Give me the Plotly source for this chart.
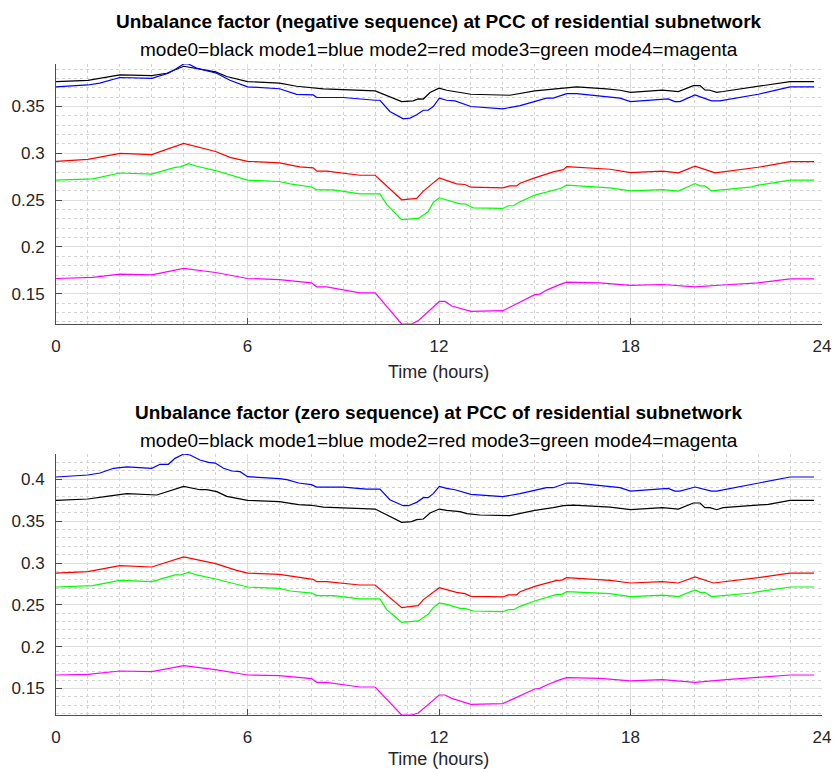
import plotly.graph_objects as go

# ---------------- data: negative sequence (top panel) ----------------
neg_black_t = [0, 1, 2, 3, 3.47, 4, 5, 5.35, 6, 7, 7.54, 8, 8.38, 10, 10.83, 11.19, 11.35, 11.51, 11.72, 12, 12.24, 13, 14, 14.22, 15, 15.58, 15.95, 16.31, 17.25, 17.67, 18, 19, 19.5, 19.97, 20.18, 20.33, 20.49, 20.7, 20.9, 22, 23, 23.75]
neg_black_v = [0.3766, 0.378, 0.3837, 0.383, 0.3855, 0.393, 0.387, 0.382, 0.3766, 0.375, 0.3716, 0.3702, 0.3688, 0.3667, 0.3553, 0.356, 0.3582, 0.358, 0.365, 0.3695, 0.3674, 0.3631, 0.3617, 0.362, 0.3667, 0.3688, 0.370, 0.3709, 0.3688, 0.3674, 0.3652, 0.3674, 0.366, 0.3723, 0.3723, 0.3677, 0.3674, 0.3652, 0.366, 0.3716, 0.3766, 0.3766]

neg_blue_t = [0, 1, 1.37, 2, 3, 3.52, 3.75, 4.0, 4.15, 4.4, 5, 5.45, 6, 7, 7.54, 8.06, 8.17, 9, 10, 10.15, 10.46, 10.88, 11.09, 11.3, 11.51, 11.66, 11.82, 12.01, 12.24, 12.5, 13, 14, 14.54, 15, 15.37, 15.58, 16.0, 16.31, 16.83, 17.67, 18, 18.3, 19, 19.18, 19.39, 19.55, 20.02, 20.54, 20.8, 22, 23, 23.75]
neg_blue_v = [0.3709, 0.373, 0.375, 0.381, 0.380, 0.3855, 0.390, 0.3954, 0.3954, 0.391, 0.386, 0.378, 0.371, 0.369, 0.363, 0.3624, 0.3596, 0.3596, 0.3567, 0.3567, 0.3447, 0.3369, 0.3376, 0.3411, 0.346, 0.346, 0.35, 0.3589, 0.3567, 0.356, 0.35, 0.3475, 0.351, 0.3553, 0.3589, 0.3589, 0.3638, 0.3638, 0.3617, 0.3589, 0.3553, 0.356, 0.3582, 0.3582, 0.3553, 0.3553, 0.3624, 0.356, 0.356, 0.3631, 0.3709, 0.3709]

neg_red_t = [0, 1, 2, 3, 4, 5, 5.45, 6, 7, 7.64, 8.06, 8.17, 8.48, 9.52, 10, 10.83, 11.3, 11.51, 12.01, 12.55, 12.81, 13, 14, 14.22, 14.43, 14.54, 15, 15.58, 15.9, 16.0, 17.36, 18, 19, 19.5, 20.02, 20.65, 22, 23, 23.75]
neg_red_v = [0.2915, 0.2936, 0.300, 0.2986, 0.3106, 0.302, 0.2957, 0.2915, 0.2897, 0.2856, 0.2844, 0.2809, 0.2809, 0.2766, 0.2766, 0.2504, 0.2518, 0.2596, 0.2738, 0.2674, 0.2667, 0.2638, 0.2631, 0.2652, 0.2652, 0.2681, 0.2738, 0.2801, 0.2825, 0.2858, 0.283, 0.2794, 0.2809, 0.2791, 0.2862, 0.2791, 0.2851, 0.2911, 0.2911]

neg_green_t = [0, 1.15, 2, 3, 3.73, 3.89, 4.15, 4.41, 5, 5.25, 6, 7, 7.34, 8.0, 8.17, 8.69, 9.52, 10.15, 10.36, 10.83, 11.35, 11.66, 11.82, 12.01, 12.24, 12.66, 12.81, 13.07, 14, 14.17, 14.33, 14.54, 15, 15.69, 15.8, 16.0, 17.36, 18, 19, 19.5, 20.02, 20.18, 20.33, 20.54, 21.8, 22, 23, 23.75]
neg_green_v = [0.2713, 0.2727, 0.279, 0.2777, 0.285, 0.2855, 0.289, 0.2862, 0.2816, 0.279, 0.2713, 0.2699, 0.2674, 0.264, 0.261, 0.261, 0.2567, 0.2567, 0.2454, 0.2291, 0.2305, 0.2376, 0.2475, 0.2525, 0.2504, 0.2461, 0.2461, 0.2418, 0.2411, 0.244, 0.244, 0.2482, 0.2553, 0.2617, 0.2624, 0.266, 0.2631, 0.2599, 0.2613, 0.2596, 0.2677, 0.2652, 0.2652, 0.2599, 0.2642, 0.266, 0.2713, 0.2713]

neg_mag_t = [0, 1.15, 2, 3, 4, 5, 6, 7, 8, 8.17, 8.48, 9.52, 10, 10.83, 11.14, 11.35, 12.01, 12.19, 12.4, 13, 14, 15, 15.16, 15.37, 15.8, 16.0, 17.04, 18, 19, 20.02, 21, 22, 23, 23.75]
neg_mag_v = [0.1663, 0.1674, 0.1709, 0.1702, 0.177, 0.1727, 0.1663, 0.1652, 0.1617, 0.1574, 0.1574, 0.151, 0.151, 0.1177, 0.1177, 0.1213, 0.1418, 0.1418, 0.1369, 0.1312, 0.1319, 0.149, 0.1496, 0.1539, 0.16, 0.1624, 0.1617, 0.1589, 0.1599, 0.1574, 0.1596, 0.1617, 0.166, 0.166]

# ---------------- data: zero sequence (bottom panel) ----------------
zero_black_t = [0, 1, 1.59, 2.22, 3.16, 3.57, 4, 4.51, 4.72, 5.04, 5.35, 6, 7, 7.6, 8.0, 8.38, 10, 10.83, 11.14, 11.3, 11.51, 11.72, 12.01, 12.24, 12.66, 12.87, 13.28, 14.22, 14.54, 15, 15.58, 15.9, 16.21, 17.36, 18, 19, 19.5, 19.97, 20.18, 20.33, 20.49, 20.7, 20.9, 22.32, 23, 23.75]
zero_black_v = [0.3749, 0.3765, 0.3797, 0.3829, 0.3813, 0.3861, 0.3916, 0.3876, 0.3876, 0.3853, 0.3797, 0.3749, 0.3733, 0.3697, 0.369, 0.3669, 0.3645, 0.3486, 0.3494, 0.3518, 0.3526, 0.3598, 0.3645, 0.3629, 0.3614, 0.359, 0.3574, 0.3566, 0.359, 0.3629, 0.3661, 0.3685, 0.3693, 0.3669, 0.3637, 0.3661, 0.3645, 0.3717, 0.3717, 0.3661, 0.3661, 0.3637, 0.3661, 0.3701, 0.3749, 0.3749]

zero_blue_t = [0, 1, 1.38, 1.8, 2.22, 3, 3.26, 3.52, 3.73, 4, 4.2, 4.51, 4.78, 4.99, 5.25, 5.51, 5.77, 6, 7, 7.23, 7.6, 8.0, 8.17, 9, 9.73, 10.15, 10.46, 10.88, 11.04, 11.3, 11.51, 11.66, 11.82, 12.01, 12.24, 12.5, 13, 14, 14.54, 15, 15.37, 15.58, 16.0, 16.31, 17.04, 17.67, 18, 18.3, 19, 19.18, 19.39, 19.55, 20.02, 20.54, 20.7, 22, 23, 23.75]
zero_blue_v = [0.4028, 0.4052, 0.4076, 0.4132, 0.4148, 0.4132, 0.418, 0.418, 0.4251, 0.4303, 0.4291, 0.4231, 0.4203, 0.4195, 0.4132, 0.41, 0.4092, 0.4032, 0.4008, 0.3996, 0.3956, 0.3936, 0.3908, 0.3908, 0.3884, 0.3884, 0.3757, 0.3685, 0.3685, 0.3725, 0.3781, 0.3781, 0.3829, 0.3916, 0.3892, 0.3876, 0.3821, 0.3793, 0.3829, 0.3869, 0.39, 0.39, 0.3956, 0.3956, 0.3924, 0.39, 0.386, 0.3868, 0.3892, 0.3892, 0.386, 0.386, 0.3908, 0.386, 0.386, 0.3956, 0.4028, 0.4028]

zero_red_t = [0, 1, 2, 3, 4, 5, 5.66, 6, 7, 7.64, 8.05, 8.17, 8.48, 9.52, 10, 10.83, 11.35, 11.51, 12.01, 12.55, 12.81, 13, 14, 14.17, 14.43, 14.54, 15, 15.69, 15.85, 16.0, 17.36, 18, 19, 19.5, 20.02, 20.6, 22, 23, 23.75]
zero_red_v = [0.288, 0.2896, 0.2968, 0.2952, 0.3072, 0.2992, 0.2912, 0.288, 0.2865, 0.2825, 0.2805, 0.2777, 0.2777, 0.2737, 0.2737, 0.2466, 0.249, 0.2562, 0.2705, 0.2649, 0.2633, 0.2602, 0.2594, 0.2618, 0.2618, 0.2657, 0.2721, 0.2793, 0.2795, 0.2825, 0.2793, 0.2761, 0.2777, 0.2761, 0.2833, 0.2761, 0.2825, 0.288, 0.288]

zero_green_t = [0, 1.15, 2, 3, 3.73, 3.89, 4.15, 4.41, 5, 5.25, 6, 7, 7.34, 8.01, 8.17, 8.69, 9.52, 10.15, 10.36, 10.83, 11.35, 11.66, 11.82, 12.01, 12.24, 12.66, 12.81, 13.07, 14, 14.17, 14.33, 14.54, 15, 15.69, 15.85, 16.0, 17.36, 18, 19, 19.5, 20.02, 20.18, 20.33, 20.54, 21.8, 22, 23, 23.75]
zero_green_v = [0.2713, 0.2729, 0.2793, 0.2777, 0.2857, 0.2857, 0.2888, 0.2857, 0.2809, 0.2785, 0.2713, 0.2697, 0.2665, 0.2641, 0.261, 0.261, 0.257, 0.257, 0.2442, 0.2291, 0.2307, 0.2386, 0.2466, 0.2522, 0.2506, 0.2458, 0.2458, 0.2426, 0.2418, 0.2442, 0.2442, 0.2482, 0.2546, 0.2625, 0.2625, 0.2657, 0.2633, 0.2598, 0.2617, 0.2598, 0.2677, 0.2649, 0.2649, 0.2598, 0.2641, 0.2657, 0.2713, 0.2713]

zero_mag_t = [0, 1, 2, 3, 4, 5, 6, 7, 8.01, 8.17, 8.48, 9.52, 10, 10.83, 11.14, 11.35, 12.01, 12.19, 12.4, 13, 14, 15, 15.16, 15.37, 15.8, 16.0, 17.04, 18, 19, 20.02, 21, 22, 23, 23.75]
zero_mag_v = [0.1661, 0.1669, 0.1709, 0.1701, 0.1773, 0.1725, 0.1661, 0.1653, 0.1618, 0.1574, 0.1574, 0.1518, 0.1518, 0.1183, 0.1183, 0.1207, 0.1422, 0.1422, 0.1382, 0.1311, 0.1319, 0.1494, 0.1502, 0.1542, 0.1606, 0.163, 0.1622, 0.159, 0.1606, 0.1574, 0.1606, 0.163, 0.1661, 0.1661]

x_ticks = [0, 6, 12, 18, 24]
titles = ["Unbalance factor (negative sequence) at PCC of residential subnetwork",
          "Unbalance factor (zero sequence) at PCC of residential subnetwork"]
subtitle = "mode0=black mode1=blue mode2=red mode3=green mode4=magenta"
xlabel = "Time (hours)"
mode_colors = ["#000000", "#0000ff", "#ff0000", "#00ff00", "#ff00ff"]

# ---------------- figure ----------------
W, H = 833, 769
FONT = "Liberation Sans, Arial, Helvetica, sans-serif"
TXT = "#262626"

fig = go.Figure()
top_series = [(neg_black_t, neg_black_v), (neg_blue_t, neg_blue_v), (neg_red_t, neg_red_v),
              (neg_green_t, neg_green_v), (neg_mag_t, neg_mag_v)]
bot_series = [(zero_black_t, zero_black_v), (zero_blue_t, zero_blue_v), (zero_red_t, zero_red_v),
              (zero_green_t, zero_green_v), (zero_mag_t, zero_mag_v)]
for (t, v), c in zip(top_series, mode_colors):
    fig.add_trace(go.Scatter(x=t, y=v, mode="lines", line=dict(color=c, width=1.2),
                             xaxis="x", yaxis="y", showlegend=False, hoverinfo="skip"))
for (t, v), c in zip(bot_series, mode_colors):
    fig.add_trace(go.Scatter(x=t, y=v, mode="lines", line=dict(color=c, width=1.2),
                             xaxis="x2", yaxis="y2", showlegend=False, hoverinfo="skip"))

xdom = [56 / W, 822 / W]
top_dom = [1 - 324 / H, 1 - 64 / H]
bot_dom = [1 - 715 / H, 1 - 454 / H]

def xaxis_cfg(anchor):
    return dict(domain=xdom, anchor=anchor, range=[0, 24], tickvals=x_ticks,
                showline=True, linecolor="#4d4d4d", linewidth=1, mirror=False,
                ticks="inside", ticklen=6, tickcolor="#4d4d4d", tickwidth=1,
                showgrid=True, gridcolor="#dedede", gridwidth=1,
                minor=dict(dtick=1, tick0=0, showgrid=True, gridcolor="#d2d2d2",
                           griddash="dot", gridwidth=1, ticks=""),
                tickfont=dict(family=FONT, size=17, color=TXT),
                ticklabelstandoff=7, zeroline=False, fixedrange=True, automargin=False)

def yaxis_cfg(anchor, dom, rng):
    return dict(domain=dom, anchor=anchor, range=rng, dtick=0.05, tick0=0,
                showline=True, linecolor="#4d4d4d", linewidth=1, mirror=False,
                ticks="inside", ticklen=6, tickcolor="#4d4d4d", tickwidth=1,
                showgrid=True, gridcolor="#dedede", gridwidth=1,
                minor=dict(dtick=0.01, tick0=0, showgrid=True, gridcolor="#d2d2d2",
                           griddash="dot", gridwidth=1, ticks=""),
                tickfont=dict(family=FONT, size=17, color=TXT),
                ticklabelstandoff=7, zeroline=False, fixedrange=True, automargin=False)

cx = (56 + 822) / 2 / W
ann = []
def add_text(text, ypix, size, bold=False, color=TXT):
    ann.append(dict(text=("<b>%s</b>" % text) if bold else text, x=cx, y=1 - ypix / H,
                    xref="paper", yref="paper", xanchor="center", yanchor="middle",
                    showarrow=False, font=dict(family=FONT, size=size, color=color)))

add_text(titles[0], 22, 19, bold=True, color="#000000")
add_text(subtitle, 49, 19, color="#000000")
add_text(xlabel, 372, 18)
add_text(titles[1], 412, 19, bold=True, color="#000000")
add_text(subtitle, 440, 19, color="#000000")
add_text(xlabel, 759, 18)

fig.update_layout(
    width=W, height=H, margin=dict(l=0, r=0, t=0, b=0, autoexpand=False),
    paper_bgcolor="white", plot_bgcolor="white",
    xaxis=xaxis_cfg("y"), yaxis=yaxis_cfg("x", top_dom, [0.1177, 0.3954]),
    xaxis2=xaxis_cfg("y2"), yaxis2=yaxis_cfg("x2", bot_dom, [0.1183, 0.4303]),
    annotations=ann, showlegend=False,
)

fig.write_html("out.html")
